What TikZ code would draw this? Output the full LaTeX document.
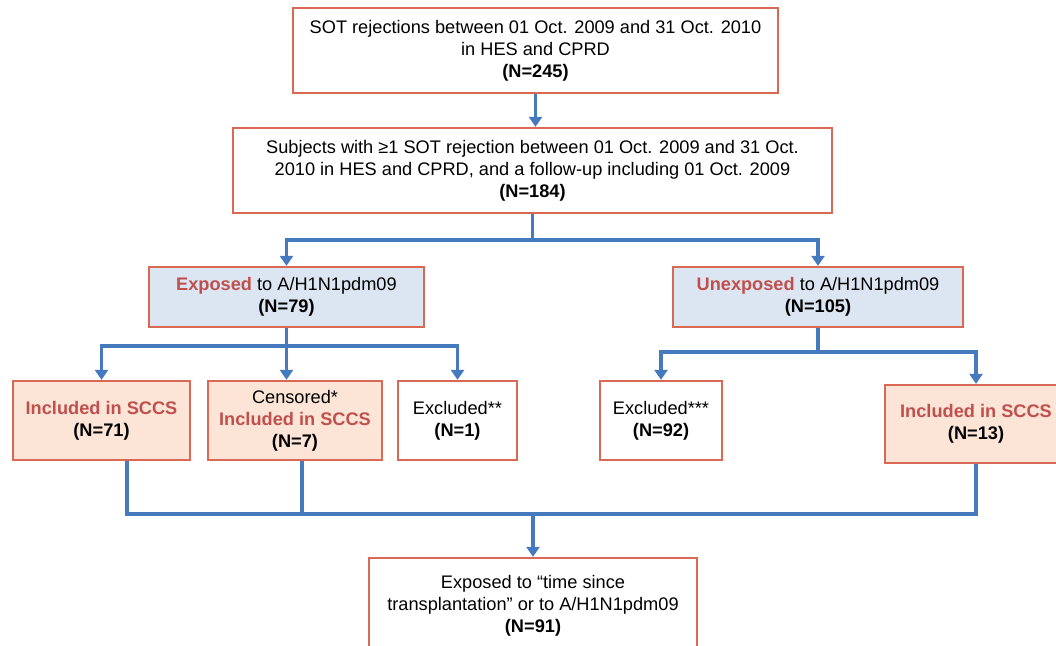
\documentclass[tikz,border=0pt]{standalone}
\usepackage{fontspec}
\setmainfont{Liberation Sans}
\usetikzlibrary{arrows.meta}
\definecolor{boxred}{RGB}{217,104,84}
\definecolor{linkblue}{RGB}{70,122,190}
\definecolor{paleblue}{RGB}{220,230,242}
\definecolor{paleorange}{RGB}{252,228,214}
\definecolor{textred}{RGB}{192,80,77}
\begin{document}
\begin{tikzpicture}[x=1pt,y=-1pt,
        box/.style={draw=boxred,line width=2.3pt,align=center,inner sep=0pt,
            font=\fontsize{18.2}{22}\selectfont},
        bluebox/.style={box,fill=paleblue},
        orangebox/.style={box,fill=paleorange},
        link/.style={draw=linkblue,line width=3.6pt},
        arr/.style={link,-{Triangle[width=13pt,length=10pt]}}]
        \useasboundingbox (0,0) rectangle (1056,645);
        % boxes
        \node[box,minimum width=485,minimum height=85] (sot) at (535.5,50.5)
            {SOT rejections between 01 Oct. 2009 and 31 Oct. 2010\\ in HES and CPRD\\ \textbf{(N=245)}};
        \node[box,minimum width=599,minimum height=85] (subj) at (532.5,170.5)
            {Subjects with ≥1 SOT rejection between 01 Oct. 2009 and 31 Oct.\\ 2010 in HES and CPRD, and a follow-up including 01 Oct. 2009\\ \textbf{(N=184)}};
        \node[bluebox,minimum width=275,minimum height=60] (exp) at (286.5,297)
            {\textbf{\color{textred}Exposed} to A/H1N1pdm09\\ \textbf{(N=79)}};
        \node[bluebox,minimum width=290,minimum height=60] (unexp) at (818,297)
            {\textbf{\color{textred}Unexposed} to A/H1N1pdm09\\ \textbf{(N=105)}};
        \node[orangebox,minimum width=177,minimum height=79] (inc71) at (101.5,420.5)
            {\textbf{\color{textred}Included in SCCS}\\ \textbf{(N=71)}};
        \node[orangebox,minimum width=174,minimum height=79] (cens) at (295,420.5)
            {Censored*\\ \textbf{\color{textred}Included in SCCS}\\ \textbf{(N=7)}};
        \node[box,minimum width=119,minimum height=79] (exc1) at (457.5,420.5)
            {Excluded**\\ \textbf{(N=1)}};
        \node[box,minimum width=122,minimum height=79] (exc92) at (661,420.5)
            {Excluded***\\ \textbf{(N=92)}};
        \node[orangebox,minimum width=182,minimum height=78] (inc13) at (976,424)
            {\textbf{\color{textred}Included in SCCS}\\ \textbf{(N=13)}};
        \node[box,minimum width=328,minimum height=96] (final) at (533,606)
            {Exposed to “time since\\ transplantation” or to A/H1N1pdm09\\ \textbf{(N=91)}};
        % branch points
        \coordinate (split1) at (532.5,240);
        \coordinate (split2) at (286.5,346);
        \coordinate (split3) at (818,352);
        \coordinate (merge) at (533,514);
        % connectors
        \draw[arr] (sot.south) -- (sot.south |- subj.north);
        \draw[link] (subj.south) -- (split1);
        \draw[arr] (split1) -| (exp.north);
        \draw[arr] (split1) -| (unexp.north);
        \draw[link] (exp.south) -- (split2);
        \draw[arr] (split2) -| (inc71.north);
        \draw[arr] (split2) -- (split2 |- cens.north);
        \draw[arr] (split2) -| (exc1.north);
        \draw[link] (unexp.south) -- (split3);
        \draw[arr] (split3) -| (exc92.north);
        \draw[arr] (split3) -| (inc13.north);
        \draw[link] ([xshift=25.5]inc71.south) |- (merge);
        \draw[link] ([xshift=7]cens.south) |- (merge);
        \draw[link] (inc13.south) |- (merge);
        \draw[arr] (merge) -- (final.north);
\end{tikzpicture}
\end{document}
